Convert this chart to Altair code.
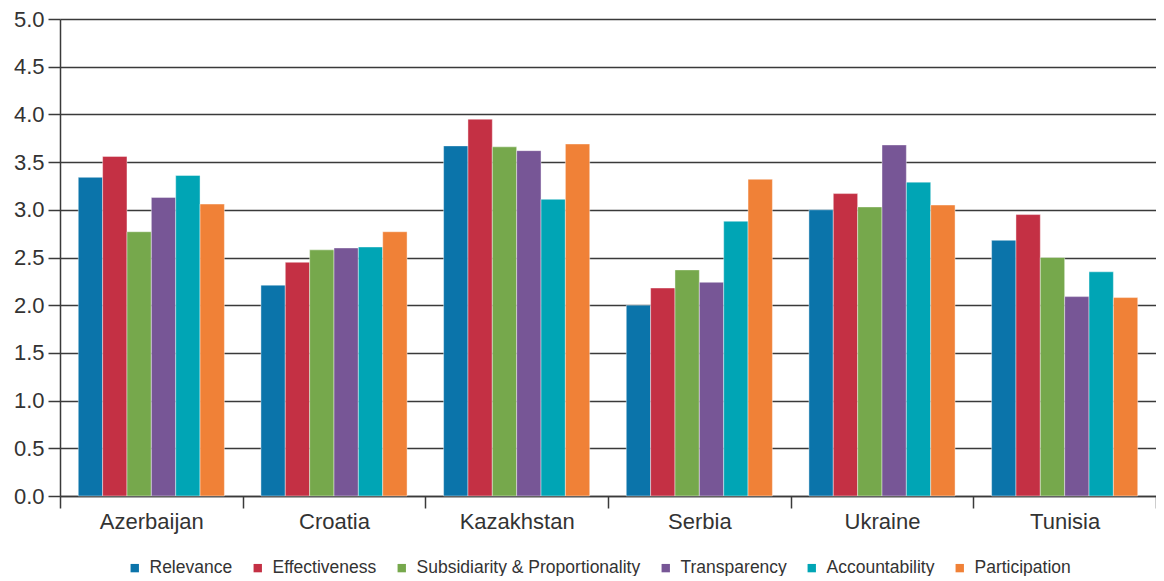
import altair as alt
import pandas as pd

countries = ["Azerbaijan", "Croatia", "Kazakhstan", "Serbia", "Ukraine", "Tunisia"]
series = ["Relevance", "Effectiveness", "Subsidiarity & Proportionality",
          "Transparency", "Accountability", "Participation"]
colors = ["#0b74aa", "#c43044", "#76a84c", "#775696", "#00a5b5", "#f08137"]

relevance = [3.34, 2.21, 3.67, 2.00, 3.00, 2.68]
effectiveness = [3.56, 2.45, 3.95, 2.18, 3.17, 2.95]
subsidiarity = [2.77, 2.58, 3.66, 2.37, 3.03, 2.50]
transparency = [3.13, 2.60, 3.62, 2.24, 3.68, 2.09]
accountability = [3.36, 2.61, 3.11, 2.88, 3.29, 2.35]
participation = [3.06, 2.77, 3.69, 3.32, 3.05, 2.08]

y_ticks = [0, 0.5, 1, 1.5, 2, 2.5, 3, 3.5, 4, 4.5, 5]

all_vals = [relevance, effectiveness, subsidiarity, transparency, accountability, participation]
rows = []
for s, vals in zip(series, all_vals):
    for c, v in zip(countries, vals):
        rows.append({"country": c, "series": s, "value": v})
df = pd.DataFrame(rows)

FONT = "Liberation Sans"
DARK = "#3a3a3a"
W = 1096

chart = alt.Chart(df).mark_bar(stroke="white", strokeWidth=0.6, strokeOpacity=0.7).encode(
    x=alt.X("country:N", sort=countries,
            scale=alt.Scale(paddingInner=0, paddingOuter=0),
            axis=alt.Axis(title=None, tickBand="extent",
                          tickSize=12, tickColor=DARK,
                          tickWidth=1.5, domainColor=DARK, domainWidth=1.5,
                          labelFont=FONT, labelFontSize=22, labelColor="#333",
                          labelPadding=3, labelAngle=0, grid=False)),
    xOffset=alt.XOffset("series:N", sort=series,
                        scale=alt.Scale(paddingInner=0, paddingOuter=0.75)),
    y=alt.Y("value:Q", scale=alt.Scale(domain=[0, 5], nice=False),
            axis=alt.Axis(title=None, values=y_ticks, format=".1f", tickSize=12,
                          tickColor=DARK, tickWidth=1.5, domainColor=DARK, domainWidth=1.5,
                          gridColor=DARK, gridWidth=1.5, grid=True,
                          labelFont=FONT, labelFontSize=22, labelColor="#333",
                          labelPadding=4)),
    color=alt.Color("series:N", sort=series,
                    scale=alt.Scale(domain=series, range=colors),
                    legend=alt.Legend(title=None, orient="none", legendX=66, legendY=540,
                                      direction="horizontal", symbolType="square",
                                      symbolSize=70, symbolStrokeWidth=0,
                                      labelFont=FONT, labelFontSize=17.5, labelColor="#333",
                                      labelLimit=500, columnPadding=16, padding=0,
                                      labelOffset=6)),
).properties(
    width=W, height=477,
    autosize=alt.AutoSizeParams(type="none"),
    padding={"left": 52, "top": 11, "right": 0, "bottom": 80},
).configure_view(strokeWidth=0)

chart.save("out.html", embed_options={"renderer": "svg", "actions": False})
